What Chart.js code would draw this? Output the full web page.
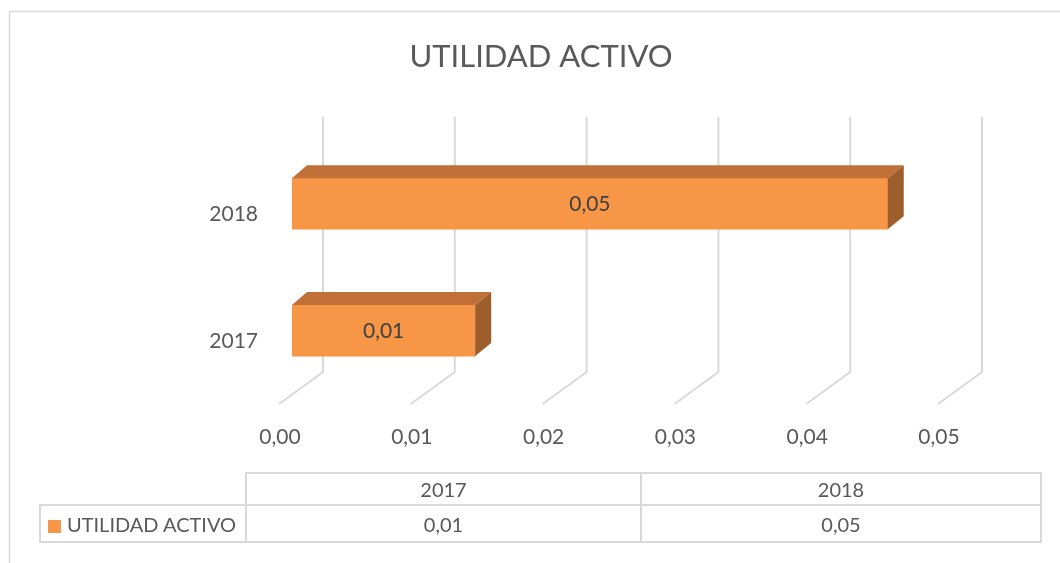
<!DOCTYPE html>
<html>
<head>
<meta charset="utf-8">
<script src="https://cdn.jsdelivr.net/npm/chart.js@4/dist/chart.umd.min.js"></script>
<style>
  html, body { margin: 0; padding: 0; background: #fff; }
  #wrap { position: relative; width: 1060px; height: 563px; overflow: hidden; }
  #dataTable { position: absolute; left: 39px; top: 472px; border-collapse: collapse; font-family: Lato, sans-serif; font-size: 20px; color: #595959; }
  #dataTable td { border: 2px solid #d9d9d9; text-align: center; padding: 0; }
  #dataTable td.blank { border: none; }
  #dataTable td.name { text-align: left; padding-left: 7px; white-space: nowrap; }
  .swatch { display: inline-block; width: 13px; height: 13px; background: #f79646; margin-right: 6px; vertical-align: -1px; }
</style>
</head>
<body>
<div id="wrap">
  <canvas id="chartData" width="1060" height="563"></canvas>
  <table id="dataTable"></table>
</div>
<script>
var categories = ['2017', '2018'];
var seriesName = 'UTILIDAD ACTIVO';
var values = [0.0139, 0.0452];
var valueLabels = ['0,01', '0,05']; // as printed on the bars and in the table
var tickValues = [0, 0.01, 0.02, 0.03, 0.04, 0.05];

var barColor = '#f79646';
var topColor = '#c07036';
var sideColor = '#9d5e2b';
var gridColor = '#d9d9d9';
var textColor = '#595959';

// depth of the 3D box (back plane offset)
var depthX = 16, depthY = -13;

function comma(v) {
    return v.toFixed(2).replace('.', ',');
}

var frame3d = {
    id: 'frame3d',
    beforeDraw: function (chart) {
        var c = chart.ctx;
        c.save();
        c.strokeStyle = gridColor;
        c.lineWidth = 1.5;
        c.strokeRect(9.5, 11.5, 1200, 700);
        c.restore();
    },
    beforeDatasetsDraw: function (chart) {
        var c = chart.ctx, a = chart.chartArea, x = chart.scales.x;
        c.save();
        c.strokeStyle = gridColor;
        c.lineWidth = 2;
        tickValues.forEach(function (v) {
            var px = x.getPixelForValue(v);
            c.beginPath();
            c.moveTo(px + 31, a.top - 23.5);
            c.lineTo(px + 31, a.bottom - 22);
            c.lineTo(px - 13, a.bottom + 10);
            c.stroke();
        });
        c.restore();
    },
    afterDatasetsDraw: function (chart) {
        var c = chart.ctx;
        var meta = chart.getDatasetMeta(0);
        c.save();
        meta.data.forEach(function (bar, i) {
            var t = bar.y - bar.height / 2, b = bar.y + bar.height / 2;
            var l = bar.base, r = bar.x;
            // top face
            c.fillStyle = topColor;
            c.beginPath();
            c.moveTo(l, t);
            c.lineTo(r, t);
            c.lineTo(r + depthX, t + depthY);
            c.lineTo(l + depthX - 1, t + depthY);
            c.closePath();
            c.fill();
            // side face
            c.fillStyle = sideColor;
            c.beginPath();
            c.moveTo(r, t);
            c.lineTo(r + depthX, t + depthY);
            c.lineTo(r + depthX, b + depthY);
            c.lineTo(r, b);
            c.closePath();
            c.fill();
            // value label
            c.fillStyle = '#404040';
            c.font = '21px Lato';
            c.textAlign = 'center';
            c.textBaseline = 'middle';
            c.fillText(valueLabels[i], (l + r) / 2, bar.y + 1);
        });
        c.restore();
    }
};

var ctx = document.getElementById('chartData').getContext('2d');
var chartData = new Chart(ctx, {
    type: 'bar',
    data: {
        labels: categories,
        datasets: [{
            label: seriesName,
            data: values,
            backgroundColor: barColor,
            borderWidth: 0,
            barThickness: 51
        }]
    },
    options: {
        indexAxis: 'y',
        responsive: false,
        animation: false,
        layout: { padding: { left: 131, right: 109, top: 0, bottom: 109 } },
        plugins: {
            legend: { display: false },
            tooltip: { enabled: false },
            title: {
                display: true,
                text: seriesName,
                color: textColor,
                font: { family: 'Lato', size: 31, weight: '400', lineHeight: 1.2 },
                padding: { top: 38, bottom: 65 }
            }
        },
        scales: {
            x: {
                min: 0,
                max: 0.05,
                afterBuildTicks: function (s) {
                    s.ticks = tickValues.map(function (v) { return { value: v }; });
                },
                afterFit: function (s) { s.height = 60; },
                grid: { display: false },
                border: { display: false },
                ticks: {
                    color: textColor,
                    font: { family: 'Lato', size: 21 },
                    padding: 23,
                    labelOffset: -12,
                    maxRotation: 0,
                    callback: function (v) { return comma(v); }
                }
            },
            y: {
                reverse: true,
                afterFit: function (s) { s.width = 161; },
                grid: { display: false },
                border: { display: false },
                ticks: {
                    color: textColor,
                    font: { family: 'Lato', size: 21 },
                    padding: 26,
                    labelOffset: 11
                }
            }
        }
    },
    plugins: [frame3d]
});

// data table under the chart
var colWidths = [205, 393, 398];
var table = document.getElementById('dataTable');
var head = '<tr style="height:32px"><td class="blank" style="width:' + colWidths[0] + 'px"></td>';
categories.forEach(function (cat, i) {
    head += '<td style="width:' + colWidths[i + 1] + 'px">' + cat + '</td>';
});
head += '</tr>';
var row = '<tr style="height:37px"><td class="name"><span class="swatch"></span>' + seriesName + '</td>';
valueLabels.forEach(function (lbl) {
    row += '<td>' + lbl + '</td>';
});
row += '</tr>';
table.innerHTML = head + row;
</script>
</body>
</html>
